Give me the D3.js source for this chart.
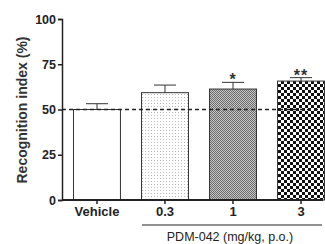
<!DOCTYPE html>
<html><head><meta charset="utf-8">
<script src="https://cdn.jsdelivr.net/npm/d3@7"></script>
<style>body{margin:0;background:#fff}svg{display:block}text{font-family:Arial,"Liberation Sans",sans-serif}</style>
</head><body>
<script>
const categories = ["Vehicle","0.3","1","3"];
const means = [50, 59.3, 61.3, 65.7];
const errors = [3.2, 4.2, 3.7, 1.9];
const stars = ["", "", "*", "**"];
const yTicks = [0,25,50,75,100];
const patterns = ["none","dots","fine","check"];
const groupLabel = "PDM-042 (mg/kg, p.o.)";
const yLabel = "Recognition index (%)";

const W=325,H=244;
const svg=d3.select("body").append("svg").attr("width",W).attr("height",H);
const defs=svg.append("defs");
let p=defs.append("pattern").attr("id","dots").attr("patternUnits","userSpaceOnUse").attr("width",3).attr("height",3);
p.append("rect").attr("width",3).attr("height",3).attr("fill","#fff");
p.append("rect").attr("x",1).attr("y",1).attr("width",1).attr("height",1).attr("fill","#b8b8b8");
p=defs.append("pattern").attr("id","fine").attr("patternUnits","userSpaceOnUse").attr("width",2).attr("height",2);
p.append("rect").attr("width",2).attr("height",2).attr("fill","#c8c8c8");
p.append("rect").attr("width",1).attr("height",1).attr("fill","#6a6a6a");
p.append("rect").attr("x",1).attr("y",1).attr("width",1).attr("height",1).attr("fill","#6a6a6a");
p=defs.append("pattern").attr("id","check").attr("patternUnits","userSpaceOnUse").attr("width",6).attr("height",6).attr("x",278).attr("y",0);
p.append("rect").attr("width",6).attr("height",6).attr("fill","#fff");
p.append("rect").attr("width",3).attr("height",3).attr("fill","#111");
p.append("rect").attr("x",3).attr("y",3).attr("width",3).attr("height",3).attr("fill","#111");

const x0=62, x1=323;
const y=d3.scaleLinear().domain([0,100]).range([200,19]);
const x=d3.scaleBand().domain(categories).range([64,334]).paddingInner(0.31).paddingOuter(0.14);
const F="Arial, 'Liberation Sans', sans-serif";

const g=svg.append("g");
g.selectAll("rect.bar").data(categories).join("rect")
 .attr("x",d=>x(d)).attr("width",x.bandwidth())
 .attr("y",(d,i)=>y(means[i])).attr("height",(d,i)=>y(0)-y(means[i]))
 .attr("fill",(d,i)=>patterns[i]==="none"?"#fff":`url(#${patterns[i]})`)
 .attr("stroke","#333").attr("stroke-width",1);
categories.forEach((c,i)=>{
  const cx=x(c)+x.bandwidth()/2;
  g.append("line").attr("x1",cx).attr("x2",cx).attr("y1",y(means[i])).attr("y2",y(means[i]+errors[i])).attr("stroke","#333");
  g.append("line").attr("x1",cx-11).attr("x2",cx+11).attr("y1",y(means[i]+errors[i])).attr("y2",y(means[i]+errors[i])).attr("stroke","#333");
  if(stars[i]) g.append("text").attr("x",cx).attr("y",y(means[i]+errors[i])+3).attr("text-anchor","middle")
     .attr("font-size",16).attr("font-weight","bold").attr("fill","#333").attr("letter-spacing",1).text(stars[i]);
});
g.append("line").attr("x1",x0).attr("x2",x1).attr("y1",y(50)).attr("y2",y(50))
 .attr("stroke","#222").attr("stroke-width",1.6).attr("stroke-dasharray","4,3");
const ya=svg.append("g").attr("transform",`translate(${x0},0)`)
 .call(d3.axisLeft(y).tickValues(yTicks).tickSize(4).tickPadding(2));
ya.select(".domain").attr("stroke","#222").attr("stroke-width",1.5);
ya.selectAll(".tick line").attr("stroke","#222").attr("stroke-width",1.5);
ya.selectAll("text").attr("font-size",12.5).attr("font-weight","bold").attr("fill","#222").attr("font-family",F);
svg.append("line").attr("x1",x0).attr("x2",x1).attr("y1",200).attr("y2",200).attr("stroke","#222").attr("stroke-width",1.8);
const xa=svg.append("g").attr("transform","translate(0,200)")
 .call(d3.axisBottom(x).tickSize(4).tickPadding(3));
xa.select(".domain").remove();
xa.selectAll(".tick line").attr("stroke","#222").attr("stroke-width",1.5);
xa.selectAll("text").attr("font-size",13).attr("font-weight","bold").attr("fill","#222").attr("font-family",F);
svg.append("line").attr("x1",142).attr("x2",322).attr("y1",225).attr("y2",225).attr("stroke","#222").attr("stroke-width",1.2);
svg.append("text").attr("x",230).attr("y",241).attr("text-anchor","middle").attr("font-size",12.5).attr("fill","#222").text(groupLabel);
svg.append("text").attr("transform","translate(27,110) rotate(-90)").attr("text-anchor","middle")
 .attr("font-size",14).attr("font-weight","bold").attr("fill","#333").text(yLabel);
</script>
</body></html>
